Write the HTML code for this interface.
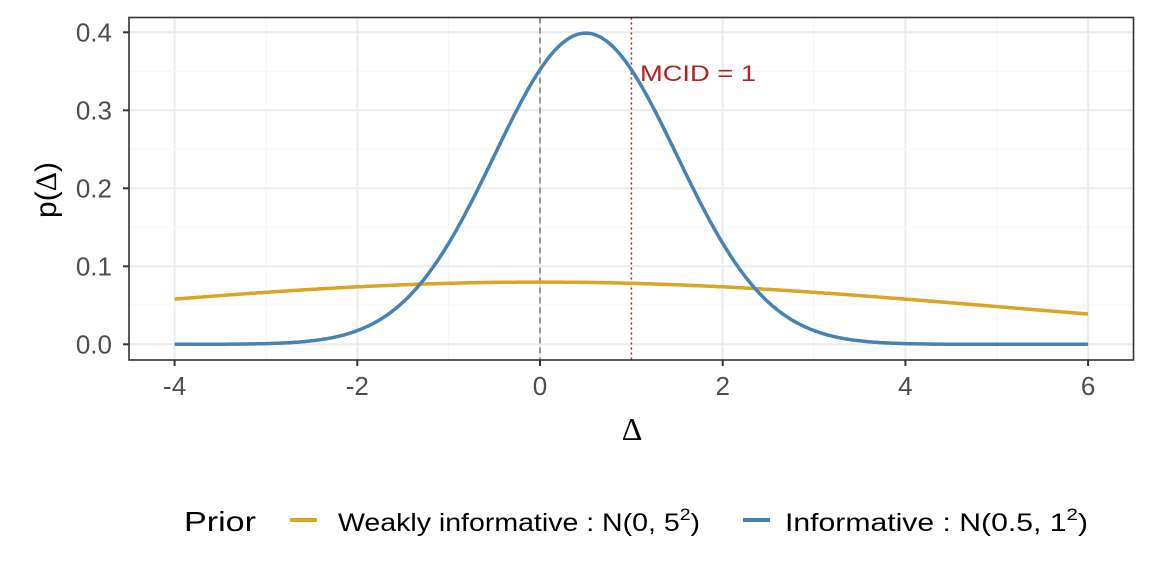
<!DOCTYPE html>
<html><head><meta charset="utf-8"><style>body{margin:0;background:#fff}svg{display:block}</style></head><body>
<svg id="s" width="1152" height="576" xmlns="http://www.w3.org/2000/svg" font-family="Liberation Sans, sans-serif">
<g id="grid"></g>
<line x1="540" y1="17.5" x2="540" y2="360" stroke="#808080" stroke-width="1.5" stroke-dasharray="6,4"/>
<line x1="631.4" y1="17.5" x2="631.4" y2="360" stroke="#b22222" stroke-width="1.5" stroke-dasharray="2,3"/>
<path id="w" fill="none" stroke="#daa520" stroke-width="3.5"/>
<path id="i" fill="none" stroke="#4682b4" stroke-width="3.5"/>
<text x="640" y="81" font-size="22" fill="#b22222" textLength="116" lengthAdjust="spacingAndGlyphs">MCID = 1</text>
<rect x="129" y="17.5" width="1004.5" height="342.5" fill="none" stroke="#333" stroke-width="1.6"/>
<g id="ticks" fill="#4d4d4d"></g>
<text x="632" y="440" font-size="32" font-family="Liberation Serif, serif" text-anchor="middle">Δ</text>
<text transform="translate(56,190) rotate(-90)" font-size="30" text-anchor="middle">p(<tspan font-family="Liberation Serif, serif">Δ</tspan>)</text>
<text x="184" y="531" font-size="28" textLength="72" lengthAdjust="spacingAndGlyphs">Prior</text>
<line x1="290" y1="520" x2="317" y2="520" stroke="#daa520" stroke-width="4"/>
<text x="338" y="531" font-size="25" textLength="362" lengthAdjust="spacingAndGlyphs">Weakly informative : N(0,  5<tspan font-size="17" dy="-11">2</tspan><tspan dy="11">)</tspan></text>
<line x1="743" y1="520" x2="770" y2="520" stroke="#4682b4" stroke-width="4"/>
<text x="785" y="531" font-size="25" textLength="303" lengthAdjust="spacingAndGlyphs">Informative : N(0.5,  1<tspan font-size="17" dy="-11">2</tspan><tspan dy="11">)</tspan></text>
</svg>
<script>
var X=d=>540+91.35*d, Y=p=>344.3-780*p, NS="http://www.w3.org/2000/svg";
var g=document.getElementById('grid'), t=document.getElementById('ticks');
function el(p,tag,a,txt){var e=document.createElementNS(NS,tag);for(var k in a)e.setAttribute(k,a[k]);if(txt!=null)e.textContent=txt;p.appendChild(e);}
for(var d=-4;d<=6;d++){var maj=d%2==0;el(g,'line',{x1:X(d),x2:X(d),y1:17.5,y2:360,stroke:maj?'#ebebeb':'#f5f5f5','stroke-width':maj?2:1});
 if(maj){el(t,'line',{x1:X(d),x2:X(d),y1:360,y2:366,stroke:'#333','stroke-width':2});el(t,'text',{x:X(d),y:395,'text-anchor':'middle','font-size':'26'},d);}}
for(var k=0;k<=9;k++){var p=k*0.05,maj=k%2==0;if(Y(p)<17.5)continue;el(g,'line',{x1:129,x2:1133.5,y1:Y(p),y2:Y(p),stroke:maj?'#ebebeb':'#f5f5f5','stroke-width':maj?2:1});
 if(maj){el(t,'line',{x1:123,x2:129,y1:Y(p),y2:Y(p),stroke:'#333','stroke-width':2});el(t,'text',{x:112,y:Y(p)+9,'text-anchor':'end','font-size':'26'},p.toFixed(1));}}
function path(m,s){var a=[];for(var d=-4;d<=6.0001;d+=0.02){var p=Math.exp(-0.5*Math.pow((d-m)/s,2))/(s*Math.sqrt(2*Math.PI));a.push((a.length?'L':'M')+X(d).toFixed(1)+','+Y(p).toFixed(1));}return a.join('');}
document.getElementById('w').setAttribute('d',path(0,5));
document.getElementById('i').setAttribute('d',path(0.5,1));
</script>
</body></html>
